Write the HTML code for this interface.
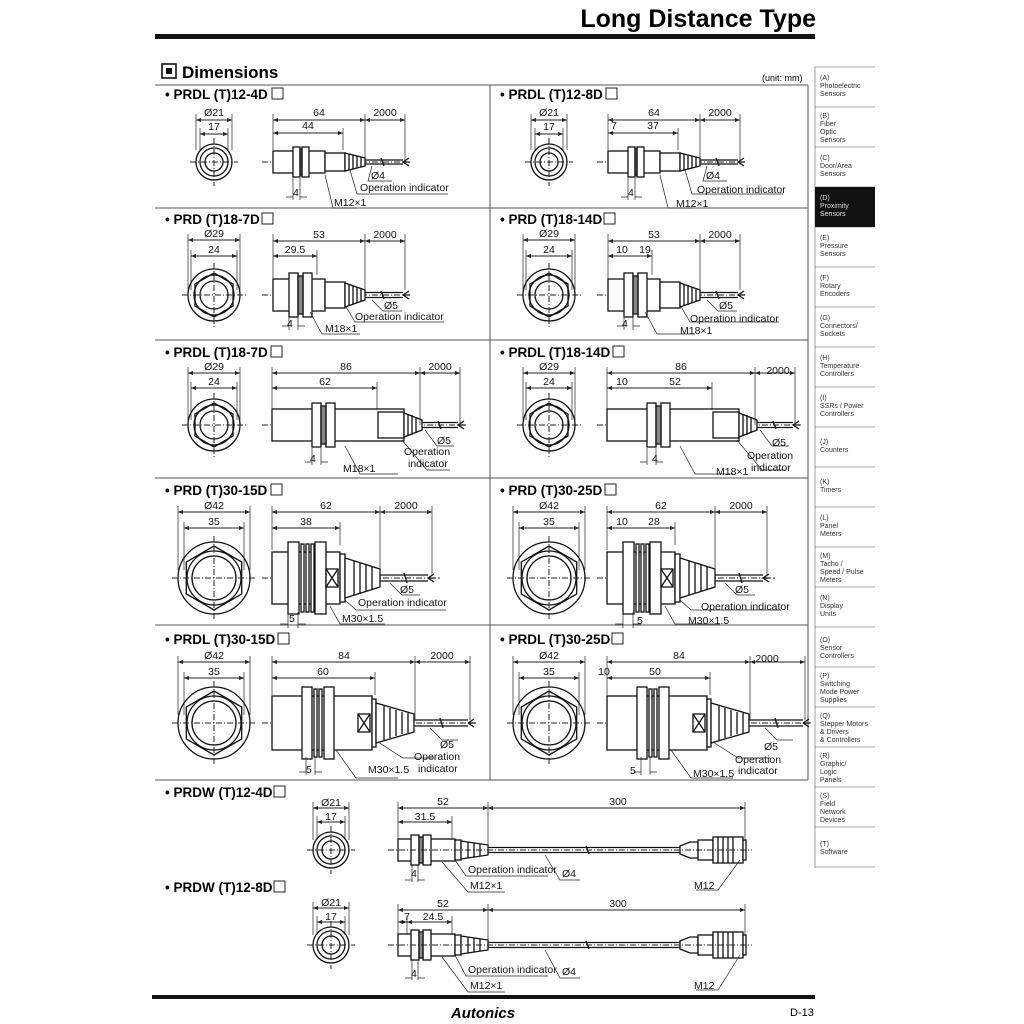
<!DOCTYPE html>
<html><head><meta charset="utf-8"><style>
html,body{margin:0;padding:0;background:#fff;}
svg{display:block;font-family:"Liberation Sans",sans-serif;}
.t{font-size:10.5px;fill:#111;}
.h{font-size:13.5px;font-weight:bold;fill:#000;}
.sb{font-size:7px;fill:#333;}
</style></head><body>
<svg width="1024" height="1024" viewBox="0 0 1024 1024" xmlns="http://www.w3.org/2000/svg">
<defs>
<marker id="a" viewBox="0 0 10 10" refX="10" refY="5" markerWidth="5" markerHeight="5" orient="auto-start-reverse"><path d="M0,1 L10,5 L0,9z" fill="#222"/></marker>
<g id="sA" fill="#fff" stroke="#111" stroke-width="1.3">
<rect x="0" y="-11" width="52" height="22"/><rect x="52" y="-9" width="20" height="18"/>
<rect x="20" y="-15" width="7" height="30"/><rect x="29" y="-15" width="7" height="30"/><rect x="27" y="-13" width="2" height="26" fill="#777"/>
<path d="M72,-9 L92,-4 L92,4 L72,9Z"/><path d="M76,-8V8M80,-7V7M84,-6V6M88,-5V5" />
<path d="M92,-2H130M92,2H130M130,0L136,-4M130,0L136,4M130,0H137" fill="none"/>
<path d="M108,-4 l3,8" fill="none"/>
</g>
<g id="sB" fill="#fff" stroke="#111" stroke-width="1.3">
<rect x="0" y="-16" width="52" height="32"/><rect x="52" y="-13" width="20" height="26"/>
<rect x="16" y="-22" width="9" height="44"/><rect x="30" y="-22" width="9" height="44"/><rect x="25" y="-19" width="5" height="38" fill="#888"/>
<path d="M72,-12 L92,-5 L92,5 L72,12Z"/><path d="M76,-11V11M80,-10V10M84,-8V8M88,-7V7"/>
<path d="M92,-2.5H130M92,2.5H130M130,0L136,-4M130,0L136,4M130,0H137" fill="none"/><path d="M108,-4 l3,8" fill="none"/>
</g>
<g id="sC" fill="#fff" stroke="#111" stroke-width="1.3">
<rect x="0" y="-16" width="132" height="32"/><rect x="106" y="-13" width="26" height="26"/>
<rect x="40" y="-22" width="9" height="44"/><rect x="54" y="-22" width="9" height="44"/><rect x="49" y="-19" width="5" height="38" fill="#888"/>
<path d="M132,-12 L150,-5 L150,5 L132,12Z"/><path d="M136,-11V11M140,-10V10M144,-8V8"/>
<path d="M150,-2.5H186M150,2.5H186M186,0L192,-4M186,0L192,4M186,0H193" fill="none"/><path d="M166,-4 l3,8" fill="none"/>
</g>
<g id="sD" fill="#fff" stroke="#111" stroke-width="1.3">
<rect x="0" y="-26" width="68" height="52"/>
<rect x="16" y="-36" width="11" height="72"/><rect x="29" y="-34" width="3" height="68"/><rect x="34" y="-34" width="3" height="68"/><rect x="39" y="-34" width="3" height="68"/><rect x="43" y="-36" width="11" height="72"/>
<rect x="54" y="-9" width="12" height="18"/><path d="M54,-9L66,9M66,-9L54,9"/>
<rect x="68" y="-24" width="5" height="48"/>
<path d="M73,-20 L108,-9 L108,9 L73,20Z"/><path d="M82,-17V17M88,-15V15M94,-13V13M100,-11V11"/>
<path d="M108,-3H156M108,3H156M156,0L162,-4M156,0L162,4M156,0H163" fill="none"/><path d="M132,-5 l3,10" fill="none"/>
</g>
<g id="sE" fill="#fff" stroke="#111" stroke-width="1.3">
<rect x="0" y="-27" width="100" height="54"/>
<rect x="30" y="-36" width="10" height="72"/><rect x="42" y="-34" width="3" height="68"/><rect x="47" y="-34" width="3" height="68"/><rect x="52" y="-36" width="10" height="72"/>
<rect x="86" y="-9" width="12" height="18"/><path d="M86,-9L98,9M98,-9L86,9"/>
<rect x="100" y="-24" width="4" height="48"/>
<path d="M104,-20 L142,-9 L142,9 L104,20Z"/><path d="M112,-17V17M118,-15V15M124,-13V13M130,-11V11M136,-10V10"/>
<path d="M142,-3H196M142,3H196M196,0L202,-4M196,0L202,4M196,0H203" fill="none"/><path d="M168,-5 l3,10" fill="none"/>
</g>
<g id="sW" fill="#fff" stroke="#111" stroke-width="1.3">
<rect x="0" y="-11" width="57" height="22"/><rect x="13" y="-15" width="8" height="30"/><rect x="25" y="-15" width="8" height="30"/><rect x="21" y="-13" width="4" height="26" fill="#888"/>
<rect x="57" y="-10" width="6" height="20"/><path d="M63,-9 L90,-5 L90,5 L63,9Z"/><path d="M70,-8V8M76,-7V7M82,-6V6"/>
<path d="M90,-2.5H282M90,2.5H282" fill="none"/><path d="M188,-4 l3,8" fill="none"/>
<path d="M282,-4 L292,-8 L300,-8 L300,8 L292,8 L282,4Z"/><rect x="300" y="-10" width="15" height="20"/>
<rect x="315" y="-13" width="30" height="26"/><path d="M320,-13V13M325,-13V13M330,-13V13M335,-13V13"/><rect x="345" y="-10" width="3" height="20"/>
</g>
<g id="f12" fill="none" stroke="#111" stroke-width="1.3"><circle r="18"/><circle r="14"/><circle r="9"/></g>
<g id="f18" fill="none" stroke="#111" stroke-width="1.3"><circle r="26"/><path d="M0,-22 L19,-11 L19,11 L0,22 L-19,11 L-19,-11Z"/><circle r="20"/><circle r="14"/></g>
<g id="f30" fill="none" stroke="#111" stroke-width="1.3"><circle r="36"/><path d="M0,-32 L27.7,-16 L27.7,16 L0,32 L-27.7,16 L-27.7,-16Z"/><circle r="27"/><circle r="22"/></g>
<g id="r1" stroke="#222" fill="none">
<use href="#f12" x="214" y="162"/><path d="M190,162H238M214,138V186M262,162H410" stroke-dasharray="6,2,1,2"/>
<use href="#sA" x="273" y="162"/>
<path d="M196,114V150M232,114V150M200,128V150M228,128V150M273,114V150M365,114V160M405,114V160M343,128V150" stroke-width=".7"/>
<line x1="196" y1="120" x2="232" y2="120" marker-start="url(#a)" marker-end="url(#a)"/>
<line x1="200" y1="134" x2="228" y2="134" marker-start="url(#a)" marker-end="url(#a)"/>
<line x1="273" y1="120" x2="365" y2="120" marker-start="url(#a)" marker-end="url(#a)"/>
<line x1="365" y1="120" x2="405" y2="120" marker-start="url(#a)" marker-end="url(#a)"/>
<line x1="273" y1="133" x2="343" y2="133" marker-start="url(#a)" marker-end="url(#a)"/>
<path d="M293,178V200M300,178V200M286,197H293M307,197H300M372,166L368,181H392M350,170L357,194H448M325,175L333,208H357" stroke-width=".7"/>
</g>
<g id="r2" stroke="#222" fill="none">
<use href="#f18" x="214" y="295"/><path d="M182,295H246M214,263V327M262,295H410" stroke-dasharray="6,2,1,2"/>
<use href="#sB" x="273" y="295"/>
<path d="M188,234V290M240,234V290M191,250V290M237,250V290M273,234V280M365,234V290M405,234V290M317,250V275" stroke-width=".7"/>
<line x1="188" y1="240" x2="240" y2="240" marker-start="url(#a)" marker-end="url(#a)"/>
<line x1="191" y1="256" x2="237" y2="256" marker-start="url(#a)" marker-end="url(#a)"/>
<line x1="273" y1="241" x2="365" y2="241" marker-start="url(#a)" marker-end="url(#a)"/>
<line x1="365" y1="241" x2="405" y2="241" marker-start="url(#a)" marker-end="url(#a)"/>
<line x1="273" y1="256" x2="317" y2="256" marker-start="url(#a)" marker-end="url(#a)"/>
<path d="M289,315V330M298,315V330M282,326H289M305,326H298M372,300L383,311H402M345,305L355,322H444M310,312L322,334H360" stroke-width=".7"/>
</g>
<g id="r3" stroke="#222" fill="none">
<use href="#f18" x="214" y="425"/><path d="M182,425H246M214,393V457M262,425H466" stroke-dasharray="6,2,1,2"/>
<use href="#sC" x="272" y="425"/>
<path d="M188,367V420M240,367V420M191,382V420M237,382V420M272,367V410M420,367V425M460,367V425M377,382V410" stroke-width=".7"/>
<line x1="188" y1="373" x2="240" y2="373" marker-start="url(#a)" marker-end="url(#a)"/>
<line x1="191" y1="388" x2="237" y2="388" marker-start="url(#a)" marker-end="url(#a)"/>
<line x1="272" y1="373" x2="420" y2="373" marker-start="url(#a)" marker-end="url(#a)"/>
<line x1="420" y1="373" x2="460" y2="373" marker-start="url(#a)" marker-end="url(#a)"/>
<line x1="272" y1="388" x2="377" y2="388" marker-start="url(#a)" marker-end="url(#a)"/>
<path d="M312,448V465M321,448V465M305,462H312M328,462H321M425,430L437,446H454M402,440L427,470H450M345,446L360,474H398" stroke-width=".7"/>
</g>
<g id="r4" stroke="#222" fill="none">
<use href="#f30" x="214" y="578"/><path d="M172,578H256M214,536V620M262,578H440" stroke-dasharray="6,2,1,2"/>
<use href="#sD" x="272" y="578"/>
<path d="M178,506V570M250,506V570M184,522V570M244,522V570M272,506V550M380,506V575M432,506V575M340,522V545" stroke-width=".7"/>
<line x1="178" y1="512" x2="250" y2="512" marker-start="url(#a)" marker-end="url(#a)"/>
<line x1="184" y1="528" x2="244" y2="528" marker-start="url(#a)" marker-end="url(#a)"/>
<line x1="272" y1="512" x2="380" y2="512" marker-start="url(#a)" marker-end="url(#a)"/>
<line x1="380" y1="512" x2="432" y2="512" marker-start="url(#a)" marker-end="url(#a)"/>
<line x1="272" y1="528" x2="340" y2="528" marker-start="url(#a)" marker-end="url(#a)"/>
<path d="M288,612V628M298,612V628M280,624H288M306,624H298M390,583L402,595H420M345,600L356,610H446M330,606L340,624H385" stroke-width=".7"/>
</g>
<g id="r5" stroke="#222" fill="none">
<use href="#f30" x="214" y="723"/><path d="M172,723H256M214,681V765M262,723H476" stroke-dasharray="6,2,1,2"/>
<use href="#sE" x="272" y="723"/>
<path d="M178,656V715M250,656V715M184,672V715M244,672V715M272,656V695M415,656V720M470,656V720M375,672V695" stroke-width=".7"/>
<line x1="178" y1="662" x2="250" y2="662" marker-start="url(#a)" marker-end="url(#a)"/>
<line x1="184" y1="678" x2="244" y2="678" marker-start="url(#a)" marker-end="url(#a)"/>
<line x1="272" y1="662" x2="415" y2="662" marker-start="url(#a)" marker-end="url(#a)"/>
<line x1="415" y1="662" x2="470" y2="662" marker-start="url(#a)" marker-end="url(#a)"/>
<line x1="272" y1="678" x2="375" y2="678" marker-start="url(#a)" marker-end="url(#a)"/>
<path d="M306,757V775M315,757V775M299,772H306M322,772H315M430,728L442,740H458M378,742L403,758H435M336,750L356,778H398" stroke-width=".7"/>
</g>
</defs>

<text x="816" y="27" text-anchor="end" style="font-size:25px;font-weight:bold">Long Distance Type</text>
<rect x="155" y="34" width="660" height="5" fill="#111"/>
<rect x="162" y="64" width="14" height="14" fill="none" stroke="#111" stroke-width="1.6"/><rect x="166" y="68" width="6" height="6" fill="#111"/>
<text x="182" y="78" style="font-size:17px;font-weight:bold">Dimensions</text>
<text x="762" y="81" style="font-size:9px">(unit: mm)</text>
<g stroke="#555" stroke-width="1">
<path d="M155,85H808M490,85V780M155,208H808M155,340H808M155,478H808M155,625H808M155,780H808M808,85V780"/>
</g>

<g stroke="#888" stroke-width=".8" fill="none">
<path d="M815,67V868M815,67H875M815,107H875M815,147H875M815,187H875M815,227H875M815,267H875M815,307H875M815,347H875M815,387H875M815,427H875M815,467H875M815,507H875M815,547H875M815,587H875M815,627H875M815,667H875M815,707H875M815,747H875M815,787H875M815,827H875M815,867H875"/>
</g>
<rect x="815" y="187" width="60" height="40" fill="#111"/>
<g class="sb">
<text x="820" y="80">(A)</text><text x="820" y="88">Photoelectric</text><text x="820" y="96">Sensors</text>
<text x="820" y="118">(B)</text><text x="820" y="126">Fiber</text><text x="820" y="134">Optic</text><text x="820" y="142">Sensors</text>
<text x="820" y="160">(C)</text><text x="820" y="168">Door/Area</text><text x="820" y="176">Sensors</text>
<text x="820" y="200" fill="#ddd">(D)</text><text x="820" y="208" fill="#ddd">Proximity</text><text x="820" y="216" fill="#ddd">Sensors</text>
<text x="820" y="240">(E)</text><text x="820" y="248">Pressure</text><text x="820" y="256">Sensors</text>
<text x="820" y="280">(F)</text><text x="820" y="288">Rotary</text><text x="820" y="296">Encoders</text>
<text x="820" y="320">(G)</text><text x="820" y="328">Connectors/</text><text x="820" y="336">Sockets</text>
<text x="820" y="360">(H)</text><text x="820" y="368">Temperature</text><text x="820" y="376">Controllers</text>
<text x="820" y="400">(I)</text><text x="820" y="408">SSRs / Power</text><text x="820" y="416">Controllers</text>
<text x="820" y="444">(J)</text><text x="820" y="452">Counters</text>
<text x="820" y="484">(K)</text><text x="820" y="492">Timers</text>
<text x="820" y="520">(L)</text><text x="820" y="528">Panel</text><text x="820" y="536">Meters</text>
<text x="820" y="558">(M)</text><text x="820" y="566">Tacho /</text><text x="820" y="574">Speed / Pulse</text><text x="820" y="582">Meters</text>
<text x="820" y="600">(N)</text><text x="820" y="608">Display</text><text x="820" y="616">Units</text>
<text x="820" y="642">(O)</text><text x="820" y="650">Sensor</text><text x="820" y="658">Controllers</text>
<text x="820" y="678">(P)</text><text x="820" y="686">Switching</text><text x="820" y="694">Mode Power</text><text x="820" y="702">Supplies</text>
<text x="820" y="718">(Q)</text><text x="820" y="726">Stepper Motors</text><text x="820" y="734">&amp; Drivers</text><text x="820" y="742">&amp; Controllers</text>
<text x="820" y="758">(R)</text><text x="820" y="766">Graphic/</text><text x="820" y="774">Logic</text><text x="820" y="782">Panels</text>
<text x="820" y="798">(S)</text><text x="820" y="806">Field</text><text x="820" y="814">Network</text><text x="820" y="822">Devices</text>
<text x="820" y="846">(T)</text><text x="820" y="854">Software</text>
</g>

<use href="#r1"/><use href="#r1" x="335"/>
<use href="#r2"/><use href="#r2" x="335"/>
<use href="#r3"/><use href="#r3" x="335"/>
<use href="#r4"/><use href="#r4" x="335"/>
<use href="#r5"/><use href="#r5" x="335"/>

<g class="h">
<text x="165" y="99">• PRDL (T)12-4D</text><text x="500" y="99">• PRDL (T)12-8D</text>
<text x="165" y="224">• PRD (T)18-7D</text><text x="500" y="224">• PRD (T)18-14D</text>
<text x="165" y="357">• PRDL (T)18-7D</text><text x="500" y="357">• PRDL (T)18-14D</text>
<text x="165" y="495">• PRD (T)30-15D</text><text x="500" y="495">• PRD (T)30-25D</text>
<text x="165" y="644">• PRDL (T)30-15D</text><text x="500" y="644">• PRDL (T)30-25D</text>
<text x="165" y="797">• PRDW (T)12-4D</text>
<text x="165" y="892">• PRDW (T)12-8D</text>
</g>
<g fill="none" stroke="#222" stroke-width="1">
<rect x="272" y="88" width="11" height="11"/><rect x="606" y="88" width="11" height="11"/>
<rect x="262" y="213" width="11" height="11"/><rect x="604" y="213" width="11" height="11"/>
<rect x="271" y="346" width="11" height="11"/><rect x="613" y="346" width="11" height="11"/>
<rect x="271" y="484" width="11" height="11"/><rect x="605" y="484" width="11" height="11"/>
<rect x="278" y="633" width="11" height="11"/><rect x="612" y="633" width="11" height="11"/>
<rect x="274" y="786" width="11" height="11"/><rect x="274" y="881" width="11" height="11"/>
</g>

<g class="t" text-anchor="middle">
<text x="214" y="116">Ø21</text><text x="214" y="130">17</text><text x="319" y="116">64</text><text x="385" y="116">2000</text><text x="308" y="129">44</text>
<text x="549" y="116">Ø21</text><text x="549" y="130">17</text><text x="654" y="116">64</text><text x="720" y="116">2000</text><text x="614" y="129">7</text><text x="653" y="129">37</text>
<text x="214" y="237">Ø29</text><text x="214" y="253">24</text><text x="319" y="238">53</text><text x="385" y="238">2000</text><text x="295" y="253">29.5</text>
<text x="549" y="237">Ø29</text><text x="549" y="253">24</text><text x="654" y="238">53</text><text x="720" y="238">2000</text><text x="622" y="253">10</text><text x="645" y="253">19</text>
<text x="214" y="370">Ø29</text><text x="214" y="385">24</text><text x="346" y="370">86</text><text x="440" y="370">2000</text><text x="325" y="385">62</text>
<text x="549" y="370">Ø29</text><text x="549" y="385">24</text><text x="681" y="370">86</text><text x="778" y="374">2000</text><text x="622" y="385">10</text><text x="675" y="385">52</text>
<text x="214" y="509">Ø42</text><text x="214" y="525">35</text><text x="326" y="509">62</text><text x="406" y="509">2000</text><text x="306" y="525">38</text>
<text x="549" y="509">Ø42</text><text x="549" y="525">35</text><text x="661" y="509">62</text><text x="741" y="509">2000</text><text x="622" y="525">10</text><text x="654" y="525">28</text>
<text x="214" y="659">Ø42</text><text x="214" y="675">35</text><text x="344" y="659">84</text><text x="442" y="659">2000</text><text x="323" y="675">60</text>
<text x="549" y="659">Ø42</text><text x="549" y="675">35</text><text x="679" y="659">84</text><text x="767" y="662">2000</text><text x="604" y="675">10</text><text x="655" y="675">50</text>
<text x="331" y="806">Ø21</text><text x="331" y="820">17</text><text x="443" y="805">52</text><text x="618" y="805">300</text><text x="425" y="820">31.5</text>
<text x="331" y="906">Ø21</text><text x="331" y="920">17</text><text x="443" y="907">52</text><text x="618" y="907">300</text><text x="407" y="920">7</text><text x="433" y="920">24.5</text>
</g>

<g class="t">
<text x="371" y="179">Ø4</text><text x="360" y="191">Operation indicator</text><text x="334" y="206">M12×1</text><text x="293" y="196">4</text>
<text x="706" y="179">Ø4</text><text x="697" y="193">Operation indicator</text><text x="676" y="207">M12×1</text><text x="628" y="196">4</text>
<text x="384" y="309">Ø5</text><text x="355" y="320">Operation indicator</text><text x="325" y="332">M18×1</text><text x="287" y="327">4</text>
<text x="719" y="309">Ø5</text><text x="690" y="322">Operation indicator</text><text x="680" y="334">M18×1</text><text x="622" y="327">4</text>
<text x="437" y="444">Ø5</text><text x="404" y="455">Operation</text><text x="408" y="467">indicator</text><text x="343" y="472">M18×1</text><text x="310" y="462">4</text>
<text x="772" y="446">Ø5</text><text x="747" y="459">Operation</text><text x="751" y="471">indicator</text><text x="716" y="475">M18×1</text><text x="652" y="462">4</text>
<text x="400" y="593">Ø5</text><text x="358" y="606">Operation indicator</text><text x="342" y="622">M30×1.5</text><text x="289" y="622">5</text>
<text x="735" y="593">Ø5</text><text x="701" y="610">Operation indicator</text><text x="688" y="624">M30×1.5</text><text x="637" y="624">5</text>
<text x="440" y="748">Ø5</text><text x="414" y="760">Operation</text><text x="418" y="772">indicator</text><text x="368" y="773">M30×1.5</text><text x="306" y="773">5</text>
<text x="764" y="750">Ø5</text><text x="735" y="763">Operation</text><text x="738" y="774">indicator</text><text x="693" y="777">M30×1.5</text><text x="630" y="774">5</text>
<text x="468" y="873">Operation indicator</text><text x="562" y="877">Ø4</text><text x="470" y="889">M12×1</text><text x="411" y="877">4</text><text x="694" y="889">M12</text>
<text x="468" y="973">Operation indicator</text><text x="562" y="975">Ø4</text><text x="470" y="989">M12×1</text><text x="411" y="977">4</text><text x="694" y="989">M12</text>
</g>

<g stroke="#222" fill="none">
<use href="#f12" x="331" y="850"/><use href="#sW" x="398" y="850"/>
<path d="M307,850H355M331,826V874M388,850H752" stroke-dasharray="6,2,1,2"/>
<path d="M313,802V840M349,802V840M317,816V840M345,816V840M398,802V840M488,802V850M745,802V840M452,816V840" stroke-width=".7"/>
<line x1="313" y1="808" x2="349" y2="808" marker-start="url(#a)" marker-end="url(#a)"/>
<line x1="317" y1="822" x2="345" y2="822" marker-start="url(#a)" marker-end="url(#a)"/>
<line x1="398" y1="808" x2="488" y2="808" marker-start="url(#a)" marker-end="url(#a)"/>
<line x1="488" y1="808" x2="745" y2="808" marker-start="url(#a)" marker-end="url(#a)"/>
<line x1="398" y1="822" x2="452" y2="822" marker-start="url(#a)" marker-end="url(#a)"/>
<path d="M412,865V882M418,865V882M405,880H412M425,880H418M455,860L466,876H548M442,862L468,892H505M545,855L560,880H580M740,860L718,890H696" stroke-width=".7"/>

<use href="#f12" x="331" y="945"/><use href="#sW" x="398" y="945"/>
<path d="M307,945H355M331,921V969M388,945H752" stroke-dasharray="6,2,1,2"/>
<path d="M313,902V935M349,902V935M317,916V935M345,916V935M398,904V935M407,916V935M488,904V945M745,904V935M452,916V935" stroke-width=".7"/>
<line x1="313" y1="908" x2="349" y2="908" marker-start="url(#a)" marker-end="url(#a)"/>
<line x1="317" y1="922" x2="345" y2="922" marker-start="url(#a)" marker-end="url(#a)"/>
<line x1="398" y1="910" x2="488" y2="910" marker-start="url(#a)" marker-end="url(#a)"/>
<line x1="488" y1="910" x2="745" y2="910" marker-start="url(#a)" marker-end="url(#a)"/>
<line x1="398" y1="922" x2="407" y2="922" marker-start="url(#a)" marker-end="url(#a)"/>
<line x1="407" y1="922" x2="452" y2="922" marker-start="url(#a)" marker-end="url(#a)"/>
<path d="M412,960V980M418,960V980M405,978H412M425,978H418M455,955L466,976H548M442,957L468,992H505M545,950L560,978H580M740,955L718,990H696" stroke-width=".7"/>
</g>

<rect x="152" y="995" width="663" height="4" fill="#111"/>
<text x="483" y="1018" text-anchor="middle" style="font-size:15px;font-weight:bold;font-style:italic">Autonics</text>
<text x="790" y="1016" style="font-size:11px">D-13</text>
</svg>
</body></html>
